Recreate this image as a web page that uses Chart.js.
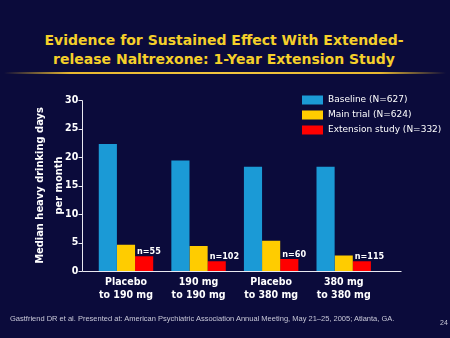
<!DOCTYPE html>
<html>
<head>
<meta charset="utf-8">
<script src="https://cdn.jsdelivr.net/npm/chart.js@4"></script>
<style>
  html, body { margin: 0; padding: 0; background: #0b0b3b; }
  #wrap { position: relative; width: 450px; height: 338px; overflow: hidden; background: #0b0b3b; }
  #title {
    position: absolute; left: 0; top: 31px; width: 448px; text-align: center;
    color: #f5d02a; font: bold 14px "DejaVu Sans", sans-serif; line-height: 19px;
  }
  #rule {
    position: absolute; left: 4px; top: 72px; width: 442px; height: 2px;
    background: linear-gradient(to right, rgba(200,150,20,0), #e8b830 15%, #f2c640 50%, #e8b830 85%, rgba(200,150,20,0));
  }
  #foot {
    position: absolute; left: 10px; top: 314px; color: #c8c8d8;
    font: 7.5px "Liberation Sans", Arial, sans-serif; white-space: nowrap;
  }
  #page {
    position: absolute; left: 440px; top: 319px; color: #c8c8d8;
    font: 7px "Liberation Sans", Arial, sans-serif;
  }
  canvas { position: absolute; left: 0; top: 0; }
</style>
</head>
<body>
<div id="wrap">
  <div id="title">Evidence for Sustained Effect With Extended-<br>release Naltrexone: 1-Year Extension Study</div>
  <div id="rule"></div>
  <canvas id="myChart" width="450" height="338"></canvas>
  <div id="foot">Gastfriend DR et al. Presented at: American Psychiatric Association Annual Meeting, May 21–25, 2005; Atlanta, GA.</div>
  <div id="page">24</div>
</div>
<script>
var categories = [
  ["Placebo", "to 190 mg"],
  ["190 mg", "to 190 mg"],
  ["Placebo", "to 380 mg"],
  ["380 mg", "to 380 mg"]
];
var baseline = [22.3, 19.4, 18.3, 18.3];
var mainTrial = [4.6, 4.4, 5.3, 2.7];
var extension = [2.6, 1.7, 2.1, 1.7];
var nLabels = ["n=55", "n=102", "n=60", "n=115"];
var seriesNames = ["Baseline (N=627)", "Main trial (N=624)", "Extension study (N=332)"];
var seriesColors = ["#1b9ad6", "#ffcc00", "#ff0000"];

var font = '"DejaVu Sans", sans-serif';
var condFont = '"DejaVu Sans Condensed", "DejaVu Sans", sans-serif';

// axis lines drawn a bit away from the bars, like the slide
var axisPlugin = {
  id: 'axisLines',
  afterDraw: function(chart) {
    var ctx = chart.ctx;
    var y = chart.scales.y;
    var ax = 82.5;
    var y0 = Math.round(y.getPixelForValue(0)) + 0.5;
    ctx.save();
    ctx.strokeStyle = '#e8e8f0';
    ctx.lineWidth = 1;
    ctx.beginPath();
    ctx.moveTo(ax, Math.round(y.getPixelForValue(30)) + 0.5);
    ctx.lineTo(ax, y0);
    ctx.lineTo(401.5, y0);
    y.ticks.forEach(function(t) {
      var py = Math.round(y.getPixelForValue(t.value)) + 0.5;
      ctx.moveTo(ax - 4, py);
      ctx.lineTo(ax, py);
    });
    ctx.stroke();
    ctx.restore();
  }
};

// n= labels above the red bars
var nLabelPlugin = {
  id: 'nLabels',
  afterDatasetsDraw: function(chart) {
    var ctx = chart.ctx;
    var meta = chart.getDatasetMeta(2);
    ctx.save();
    ctx.fillStyle = '#ffffff';
    ctx.font = 'bold 9px ' + condFont;
    ctx.textAlign = 'left';
    ctx.textBaseline = 'bottom';
    meta.data.forEach(function(bar, i) {
      ctx.fillText(nLabels[i], bar.x - bar.width / 2 + 2, bar.y);
    });
    ctx.restore();
  }
};

// legend in upper right
var legendPlugin = {
  id: 'sideLegend',
  afterDraw: function(chart) {
    var ctx = chart.ctx;
    ctx.save();
    ctx.font = '9px ' + font;
    ctx.textBaseline = 'middle';
    ctx.textAlign = 'left';
    chart.data.datasets.forEach(function(ds, i) {
      var y = 100 + i * 15;
      ctx.fillStyle = ds.backgroundColor;
      ctx.fillRect(302, y - 4.5, 21, 9);
      ctx.fillStyle = '#ffffff';
      ctx.fillText(ds.label, 328, y);
    });
    ctx.restore();
  }
};

var ctx = document.getElementById("myChart").getContext("2d");
var myChart = new Chart(ctx, {
  type: "bar",
  data: {
    labels: categories,
    datasets: [
      { label: seriesNames[0], data: baseline, backgroundColor: seriesColors[0] },
      { label: seriesNames[1], data: mainTrial, backgroundColor: seriesColors[1] },
      { label: seriesNames[2], data: extension, backgroundColor: seriesColors[2] }
    ]
  },
  options: {
    responsive: false,
    animation: false,
    categoryPercentage: 0.75,
    barPercentage: 1,
    layout: { padding: { left: 31, top: 100, right: 70, bottom: 0 } },
    plugins: {
      legend: { display: false },
      tooltip: { enabled: false }
    },
    scales: {
      x: {
        grid: { display: false, drawTicks: false },
        border: { display: false },
        ticks: { color: '#ffffff', padding: 5, font: { family: condFont, size: 10.5, weight: 'bold', lineHeight: 1.25 } },
        afterFit: function(scale) { scale.height = 67; }
      },
      y: {
        min: 0,
        max: 30,
        ticks: { stepSize: 5, color: '#ffffff', padding: 11.5, font: { family: condFont, size: 10.5, weight: 'bold' } },
        grid: { display: false, drawTicks: false },
        border: { display: false },
        title: {
          display: true,
          text: ["Median heavy drinking days", "per month"],
          color: '#ffffff',
          padding: 0,
          font: { family: condFont, size: 11, weight: 'bold', lineHeight: 1.7 }
        },
        afterFit: function(scale) { scale.width = 58.7; }
      }
    }
  },
  plugins: [nLabelPlugin, axisPlugin, legendPlugin]
});
</script>
</body>
</html>
